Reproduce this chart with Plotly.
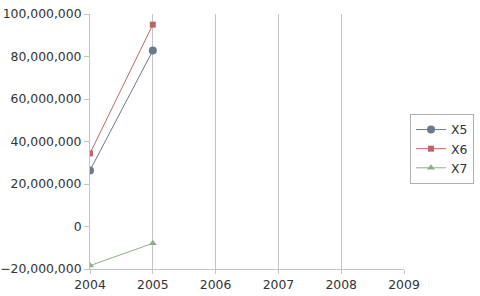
import plotly.graph_objects as go

years = [2004, 2005]
x5 = [26400000, 82800000]
x6 = [34400000, 95000000]
x7 = [-18400000, -7900000]
series_names = ["X5", "X6", "X7"]
colors = ["#6b7a8b", "#b9676a", "#8cae87"]
symbols = ["circle", "square", "triangle-up"]
msizes = [8, 6, 7]
y_ticks = [-20000000, 0, 20000000, 40000000, 60000000, 80000000, 100000000]
x_ticks = [2004, 2005, 2006, 2007, 2008, 2009]

fig = go.Figure()
for name, vals, c, s, ms in zip(series_names, [x5, x6, x7], colors, symbols, msizes):
    fig.add_trace(go.Scatter(x=years, y=vals, name=name, mode="lines+markers",
                             line=dict(color=c, width=1),
                             marker=dict(color=c, symbol=s, size=ms)))

fig.update_layout(
    width=480, height=296,
    margin=dict(l=90, r=76, t=14, b=27, autoexpand=False),
    paper_bgcolor="white", plot_bgcolor="white",
    font=dict(family="DejaVu Sans", size=12.4, color="#333333"),
    legend=dict(xref="container", yref="container",
                x=410 / 480, y=1 - 114 / 296, xanchor="left", yanchor="top",
                bordercolor="#b0b0b0", borderwidth=1,
                font=dict(size=12.4, color="#333333"),
                itemwidth=30, tracegroupgap=0),
    xaxis=dict(range=[2004, 2009], tickvals=x_ticks, showgrid=True,
               gridcolor="#c4c4c4", gridwidth=1, showline=True,
               linecolor="#c4c4c4", ticks="outside", ticklen=4,
               tickcolor="#c4c4c4", zeroline=False, fixedrange=True,
               automargin=False),
    yaxis=dict(range=[-20000000, 100000000], tickvals=y_ticks,
               tickformat=",d", showgrid=False, showline=True,
               linecolor="#c4c4c4", ticks="outside", ticklen=5,
               tickcolor="#c4c4c4", zeroline=False, fixedrange=True,
               automargin=False),
)
fig.write_html("out.html", config={"displayModeBar": False})
